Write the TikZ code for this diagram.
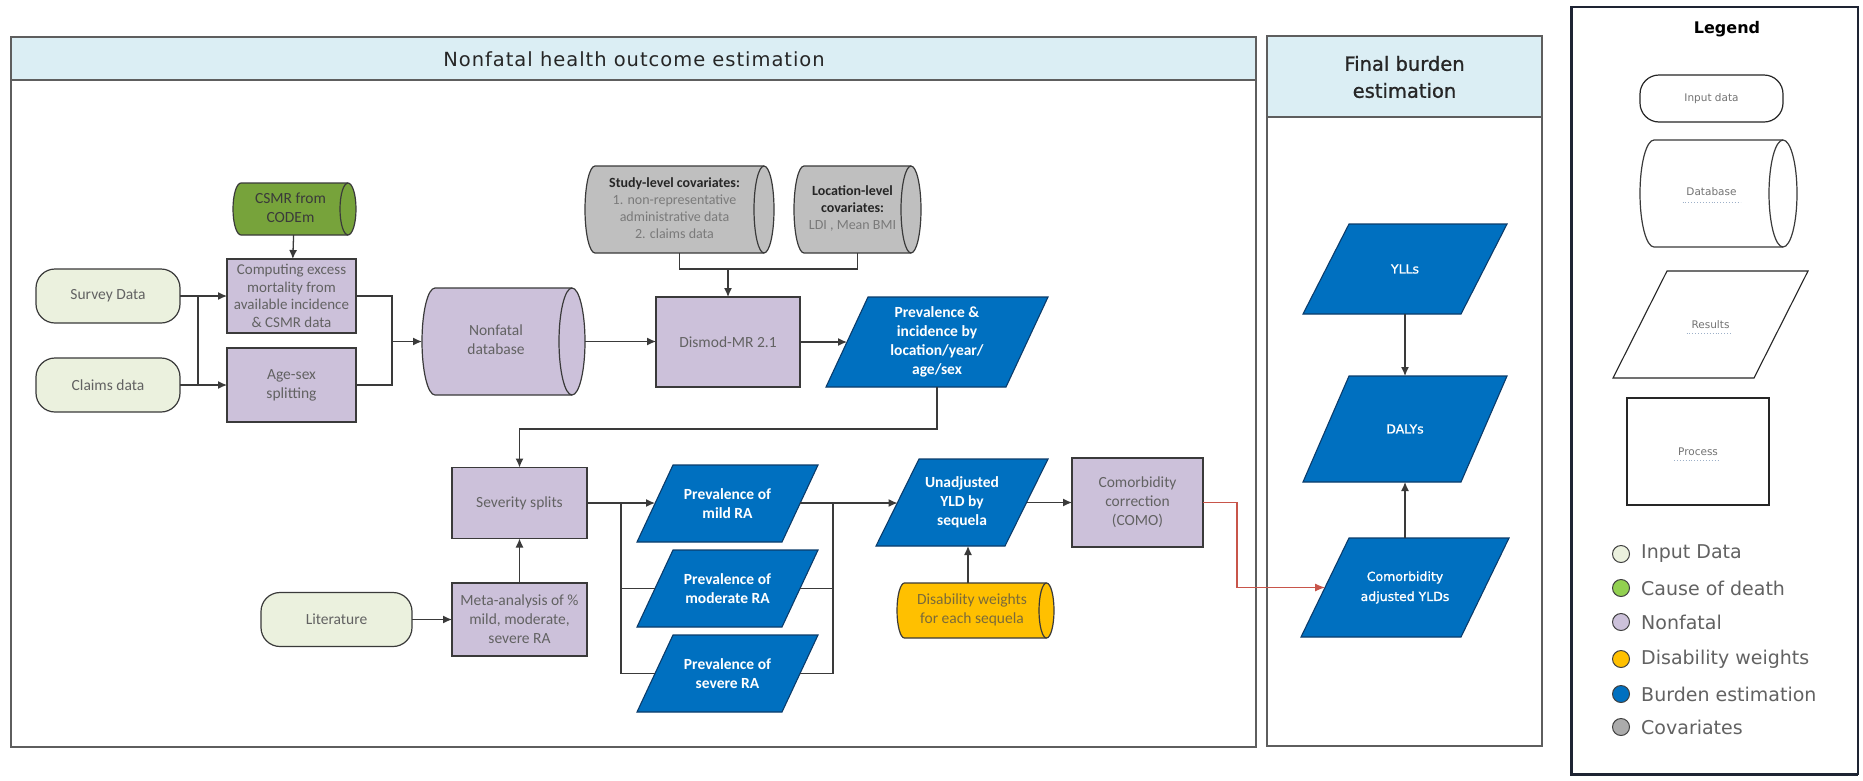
\documentclass[tikz,border=0pt]{standalone}
\usepackage{fontspec}
\setmainfont{Carlito}
\newfontfamily\vsans{DejaVu Sans}
\newfontfamily\vsanswide{DejaVu Sans}[LetterSpace=5]
\newfontfamily\vsansmed{DejaVu Sans}[FakeBold=1]
\usetikzlibrary{arrows.meta,calc}

\definecolor{hdr}{HTML}{DBEEF4}
\definecolor{inp}{HTML}{EBF1DE}
\definecolor{nonf}{HTML}{CCC1DA}
\definecolor{burd}{HTML}{0070C0}
\definecolor{burdedge}{HTML}{0B3C6B}
\definecolor{cod}{HTML}{77A33B}
\definecolor{cov}{HTML}{BFBFBF}
\definecolor{covdot}{HTML}{ABABAB}
\definecolor{dw}{HTML}{FFC000}
\definecolor{lgreen}{HTML}{92D050}
\definecolor{txtgray}{HTML}{626262}
\definecolor{covdark}{HTML}{262626}
\definecolor{covlight}{HTML}{7A7A7A}
\definecolor{dwtext}{HTML}{7A6A3A}
\definecolor{csmrtext}{HTML}{3A3A3A}
\definecolor{linec}{HTML}{3A3A3A}
\definecolor{framec}{HTML}{5E5E5E}
\definecolor{redc}{HTML}{C8554A}
\definecolor{legdark}{HTML}{1E2433}
\definecolor{spellc}{HTML}{9DB0C8}

% text centred on the body of a horizontal cylinder (left of its end ellipse)
\newcommand\bodytext[2]{\begin{tabular}{@{}c@{}}#2\end{tabular}\kern#1pt}

% horizontal cylinder outline: x0, y0, x1, y1 (y measured downwards), end radius, fill
\newcommand\cylpath[6]{%
  \pgfmathsetmacro\cylRy{(#4-#2)/2}%
  \filldraw[shapeline, fill=#6] (#1+#5,-#2) -- (#3-#5,-#2)
     arc[start angle=90, end angle=-90, x radius=#5pt, y radius=\cylRy pt]
     -- (#1+#5,-#4)
     arc[start angle=-90, end angle=-270, x radius=#5pt, y radius=\cylRy pt] -- cycle;
  \draw[shapeline] (#3-#5,-#2)
     arc[start angle=90, end angle=270, x radius=#5pt, y radius=\cylRy pt];
}

% parallelogram (data / result shape): x0, y0, x1, y1 (y downwards), slant, fill, edge colour
\newcommand\parapath[7]{%
  \filldraw[draw=#7, fill=#6, line width=1.1pt]
    (#1+#5,-#2) -- (#3,-#2) -- (#3-#5,-#4) -- (#1,-#4) -- cycle;
}

\tikzset{
  shapeline/.style={draw=linec, line width=1.2pt},
  frame/.style={draw=framec, line width=1.4pt},
  lbl/.style={font=\fontsize{15.5}{19}\selectfont, text=txtgray, align=center,
              inner sep=0pt, outer sep=0pt},
  ghost/.style={lbl, rectangle},
  proc/.style={lbl, rectangle, draw=linec, line width=1.2pt, fill=nonf},
  inbox/.style={lbl, rectangle, draw=linec, line width=1.2pt, fill=inp, rounded corners=19pt},
  res/.style={ghost, text=white, font=\fontsize{15.5}{19}\selectfont\bfseries},
  resb/.style={ghost, text=white, font=\vsansmed\fontsize{12.5}{20}\selectfont},
  covtext/.style={ghost, text=covlight, font=\fontsize{14}{17}\selectfont},
  conn/.style={draw=linec, line width=1.3pt},
  arr/.style={conn, -{Latex[length=9pt,width=8pt]}},
  redarr/.style={draw=redc, line width=1.2pt, -{Latex[length=10pt,width=8pt]}},
  legshape/.style={draw=black!85, line width=1.2pt, fill=white, text=black!55,
                   font=\vsans\fontsize{10.5}{12}\selectfont, inner sep=0pt, outer sep=0pt},
  legdot/.style={circle, draw=black!75, line width=1pt, minimum size=17pt, inner sep=0pt},
  legtext/.style={anchor=west, text=txtgray, font=\vsans\fontsize{19}{22}\selectfont, inner sep=0pt},
  spell/.style={draw=spellc, line width=0.9pt, dotted},
}

\begin{document}
\begin{tikzpicture}[x=1pt,y=1pt]
\fill[white] (0,0) rectangle (1863,-780);
\useasboundingbox (0,0) rectangle (1863,-780);

% ---------- swimlane frames ----------
\draw[frame, fill=white] (11,-37) rectangle (1256,-747);
\draw[frame, fill=hdr] (11,-37) rectangle (1256,-80);
\node[font=\vsanswide\fontsize{19.5}{22}\selectfont, text=black!85] (lane1) at (634,-59)
  {Nonfatal health outcome estimation};

\draw[frame, fill=white] (1267,-36) rectangle (1542,-746);
\draw[frame, fill=hdr] (1267,-36) rectangle (1542,-117);
\node[font=\vsansmed\fontsize{19.5}{27}\selectfont, text=black!85, align=center] (lane2)
  at (1404.5,-77) {Final burden\\estimation};

% ---------- inputs and first processing steps ----------
\node[inbox, minimum width=144pt, minimum height=54pt] (survey) at (108,-296) {Survey Data};
\node[inbox, minimum width=144pt, minimum height=54pt] (claims) at (108,-385) {Claims data};

\cylpath{233}{183}{356}{235}{8}{cod}
\node[ghost, text=csmrtext, minimum width=123pt, minimum height=52pt] (csmr) at (294.5,-209)
  {\bodytext{8}{CSMR from\\CODEm}};

\node[proc, font=\fontsize{15}{17.6}\selectfont, minimum width=129pt, minimum height=74pt]
  (comp) at (291.5,-296)
  {Computing excess\\mortality from\\available incidence\\\& CSMR data};
\node[proc, minimum width=129pt, minimum height=74pt] (agesex) at (291.5,-385)
  {Age-sex\\splitting};

\cylpath{422}{288}{585}{395}{13}{nonf}
\node[ghost, minimum width=163pt, minimum height=107pt] (db) at (503.5,-341.5)
  {\bodytext{15}{Nonfatal\\database}};

% ---------- covariates and modelling ----------
\cylpath{585}{166}{774}{253}{10}{cov}
\node[covtext, minimum width=189pt, minimum height=87pt] (study) at (679.5,-209.5)
  {\bodytext{10}{\textcolor{covdark}{\bfseries Study-level covariates:}\\1. non-representative\\administrative data\\2. claims data}};
\cylpath{794}{166}{921}{253}{10}{cov}
\node[covtext, minimum width=127pt, minimum height=87pt] (loc) at (857.5,-209.5)
  {\bodytext{10}{\textcolor{covdark}{\bfseries Location-level}\\\textcolor{covdark}{\bfseries covariates:}\\LDI , Mean BMI}};

\node[proc, minimum width=144pt, minimum height=90pt] (dismod) at (728,-342) {Dismod-MR 2.1};
\parapath{826}{297}{1048}{387}{42}{burd}{burdedge}
\node[res, minimum width=180pt, minimum height=90pt] (previnc) at (937,-342)
  {Prevalence \&\\incidence by\\location/year/\\age/sex};

% ---------- severity splitting ----------
\node[proc, minimum width=135pt, minimum height=71pt] (sev) at (519.5,-503) {Severity splits};
\node[proc, minimum width=135pt, minimum height=73pt] (meta) at (519.5,-619.5)
  {Meta-analysis of \%\\mild, moderate,\\severe RA};
\node[inbox, minimum width=151pt, minimum height=54pt] (lit) at (336.5,-619.5) {Literature};

\parapath{637}{465}{818}{542}{36}{burd}{burdedge}
\node[res, minimum width=145pt, minimum height=77pt] (mild) at (727.5,-503.5) {Prevalence of\\mild RA};
\parapath{637}{550}{818}{627}{36}{burd}{burdedge}
\node[res, minimum width=145pt, minimum height=77pt] (moder) at (727.5,-588.5) {Prevalence of\\moderate RA};
\parapath{637}{635}{818}{712}{36}{burd}{burdedge}
\node[res, minimum width=145pt, minimum height=77pt] (severe) at (727.5,-673.5) {Prevalence of\\severe RA};

\parapath{876}{459}{1048}{546}{43}{burd}{burdedge}
\node[res, minimum width=129pt, minimum height=87pt] (unadj) at (962,-502.5) {Unadjusted\\YLD by\\sequela};
\node[proc, minimum width=131pt, minimum height=89pt] (como) at (1137.5,-502.5)
  {Comorbidity\\correction\\(COMO)};

\cylpath{897}{583}{1054}{638}{7.5}{dw}
\node[ghost, text=dwtext, minimum width=157pt, minimum height=55pt] (dw) at (975.5,-610.5)
  {\bodytext{7}{Disability weights\\for each sequela}};

% ---------- final burden ----------
\parapath{1303}{224}{1507}{314}{46}{burd}{burdedge}
\node[resb, minimum width=158pt, minimum height=90pt] (ylls) at (1405,-269) {YLLs};
\parapath{1303}{376}{1507}{482}{46}{burd}{burdedge}
\node[resb, minimum width=158pt, minimum height=106pt] (dalys) at (1405,-429) {DALYs};
\parapath{1301}{538}{1509}{637}{48}{burd}{burdedge}
\node[resb, minimum width=160pt, minimum height=99pt] (adj) at (1405,-587.5)
  {Comorbidity\\adjusted YLDs};

% ---------- connectors ----------
\draw[arr] (csmr) -- (comp);
\draw[arr] (survey) -- (comp);
\draw[arr] (claims) -- (agesex);
\coordinate (jl1) at (198,-296);
\coordinate (jl2) at (198,-385);
\draw[conn] (jl1) -- (jl2);

\coordinate (jr1) at (392,-296);
\coordinate (jr2) at (392,-385);
\coordinate (jrm) at (392,-341.5);
\draw[conn] (comp.east) -- (jr1) -- (jr2) -- (agesex.east);
\draw[arr] (jrm) -- (db);
\draw[arr] (db.east) -- (db.east -| dismod.west);

\draw[conn] (study.south) -- ++(0,-16) coordinate (cj) -| (loc.south);
\draw[arr] (cj -| dismod.north) -- (dismod.north);
\draw[arr] (dismod) -- (previnc);

\draw[arr] (previnc.south) -- ++(0,-42) -| (sev.north);
\draw[arr] (meta) -- (sev);
\draw[arr] (lit) -- (meta);

\coordinate (sj) at (621,-503);
\draw[arr] (sev.east) -- (sev.east -| mild.west);
\draw[conn] (sj) |- (moder.west);
\draw[conn] (sj) |- (severe.west);

\coordinate (rj) at (833,-503);
\draw[conn] (mild.east |- rj) -- (rj);
\draw[conn] (moder.east) -- (moder -| rj);
\draw[conn] (severe.east) -- (severe -| rj);
\draw[conn] (rj) -- (severe -| rj);
\draw[arr] (rj) -- (rj -| unadj.west);
\draw[arr] (unadj) -- (como);

\coordinate (dwt) at ($(dw.north)+(-7.5,0)$);
\draw[arr] (dwt) -- (dwt |- unadj.south);

\coordinate (rc) at (1237,-502.5);
\draw[redarr] (como.east) -- (rc) |- (adj.west);

\draw[arr] (ylls) -- (dalys);
\draw[arr] (adj) -- (dalys);

% ---------- legend ----------
\draw[draw=legdark, line width=1.2pt] (1571,-7) rectangle (1858,-774);
\draw[draw=legdark, line width=3pt] (1571,-7) -- (1571,-774) -- (1858,-774);
\node[font=\vsans\bfseries\fontsize{16}{19}\selectfont, text=black] (legtitle) at (1727,-29) {Legend};

\node[legshape, rectangle, rounded corners=19pt, minimum width=143pt, minimum height=47pt]
  (linput) at (1711.5,-98.5) {Input data};
\cylpath{1640}{140}{1797}{247}{14}{white}
\node[legshape, draw=none, fill=none, rectangle, minimum width=157pt, minimum height=107pt]
  (ldb) at (1718.5,-193.5) {\bodytext{14}{Database}};
\parapath{1613}{271}{1808}{378}{54}{white}{black!85}
\node[legshape, draw=none, fill=none, rectangle, minimum width=141pt, minimum height=107pt]
  (lres) at (1710.5,-324.5) {Results};
\node[legshape, rectangle, minimum width=142pt, minimum height=107pt] (lproc) at (1698,-451.5) {Process};
\draw[spell] ($(ldb.center)+(-36,-9)$) -- ++(58,0);
\draw[spell] ($(lres.center)+(-24,-9)$) -- ++(45,0);
\draw[spell] ($(lproc.center)+(-24,-9)$) -- ++(44,0);

\node[legdot, fill=inp] (d1) at (1621,-554) {};
\node[legdot, fill=lgreen] (d2) at (1621,-588) {};
\node[legdot, fill=nonf] (d3) at (1621,-622) {};
\node[legdot, fill=dw] (d4) at (1621,-659) {};
\node[legdot, fill=burd] (d5) at (1621,-694) {};
\node[legdot, fill=covdot] (d6) at (1621,-727) {};
\node[legtext] (k1) at (1641,-554) {Input Data};
\node[legtext] (k2) at (1641,-588) {Cause of death};
\node[legtext] (k3) at (1641,-622) {Nonfatal};
\node[legtext] (k4) at (1641,-659) {Disability weights};
\node[legtext] (k5) at (1641,-694) {Burden estimation};
\node[legtext] (k6) at (1641,-727) {Covariates};
\end{tikzpicture}
\end{document}
